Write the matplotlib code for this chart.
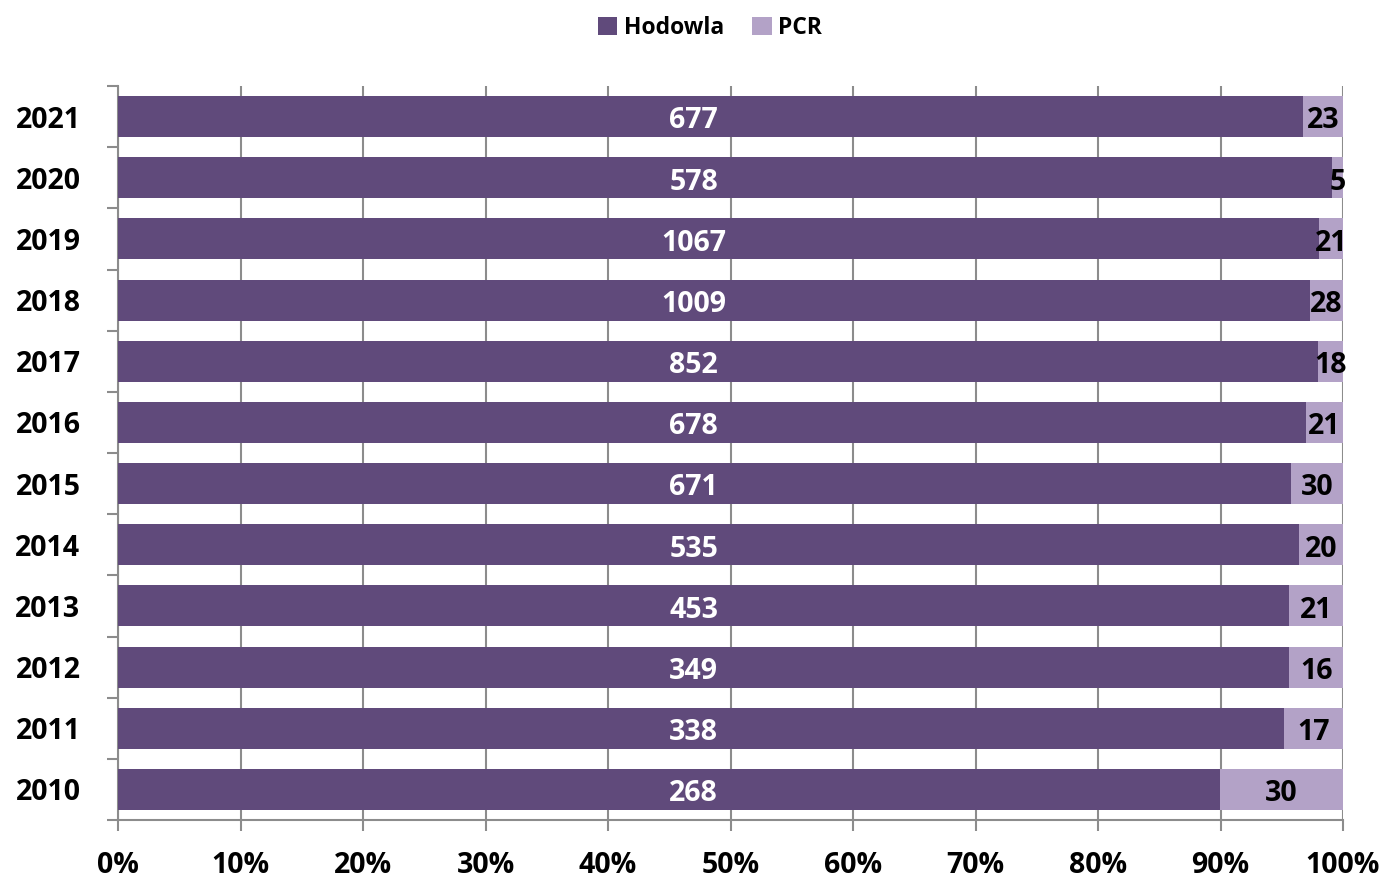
import numpy as np
import matplotlib.pyplot as plt
from matplotlib.ticker import FixedLocator, PercentFormatter

years = ['2010', '2011', '2012', '2013', '2014', '2015', '2016', '2017', '2018', '2019', '2020', '2021']
hodowla = [268, 338, 349, 453, 535, 671, 678, 852, 1009, 1067, 578, 677]
pcr = [30, 17, 16, 21, 20, 30, 21, 18, 28, 21, 5, 23]

dark = '#604A7B'
light = '#B3A2C7'
grid_col = '#8C8C8C'

plt.rcParams['font.family'] = ['Open Sans', 'DejaVu Sans']
plt.rcParams['font.weight'] = 'bold'

h = np.array(hodowla, dtype=float)
p = np.array(pcr, dtype=float)
tot = h + p
hf = h / tot
pf = p / tot
y = np.arange(len(years))

fs = 20.5

fig = plt.figure(figsize=(13.87, 8.82), dpi=100)
ax = fig.add_axes([118 / 1387, 1 - 820 / 882, (1343 - 118) / 1387, (820 - 86) / 882])

ax.barh(y, hf, height=0.67, color=dark, label='Hodowla', zorder=3)
ax.barh(y, pf, left=hf, height=0.67, color=light, label='PCR', zorder=3)

# labels sit a bit below the bar middle, as in the original
for i in range(len(years)):
    ax.text(0.47, y[i] - 0.07, str(hodowla[i]), color='white', ha='center', va='center',
            fontsize=fs, fontweight='bold', zorder=4)
    ax.text(hf[i] + pf[i] / 2, y[i] - 0.07, str(pcr[i]), color='black', ha='center',
            va='center', fontsize=fs, fontweight='bold', zorder=4)

ax.set_xlim(0, 1)
ax.set_ylim(-0.5, len(years) - 0.5)
ax.set_xticks(np.arange(0, 1.01, 0.1))
ax.xaxis.set_major_formatter(PercentFormatter(1.0, decimals=0))
ax.set_yticks(y)
ax.set_yticklabels(years, fontweight='bold')
ax.yaxis.set_minor_locator(FixedLocator(np.arange(-0.5, len(years), 1)))
ax.tick_params(axis='y', which='major', length=0, pad=27, labelsize=fs)
ax.tick_params(axis='y', which='minor', length=8, width=1.5, color=grid_col)
ax.tick_params(axis='x', which='major', length=8, width=1.5, color=grid_col,
               pad=14, labelsize=fs)
for lab in ax.get_xticklabels():
    lab.set_fontweight('bold')
ax.grid(axis='x', color=grid_col, linewidth=1.5, zorder=0)

for s in ['top', 'right']:
    ax.spines[s].set_visible(False)
for s in ['left', 'bottom']:
    ax.spines[s].set_color(grid_col)
    ax.spines[s].set_linewidth(1.5)

fig.legend(loc='upper center', bbox_to_anchor=(0.512, 1.005), ncol=2, frameon=False,
           handlelength=0.85, handleheight=0.85, handletextpad=0.3,
           columnspacing=1.2, prop={'weight': 'bold', 'size': 16.5})

fig.savefig('out.png', dpi=100)
